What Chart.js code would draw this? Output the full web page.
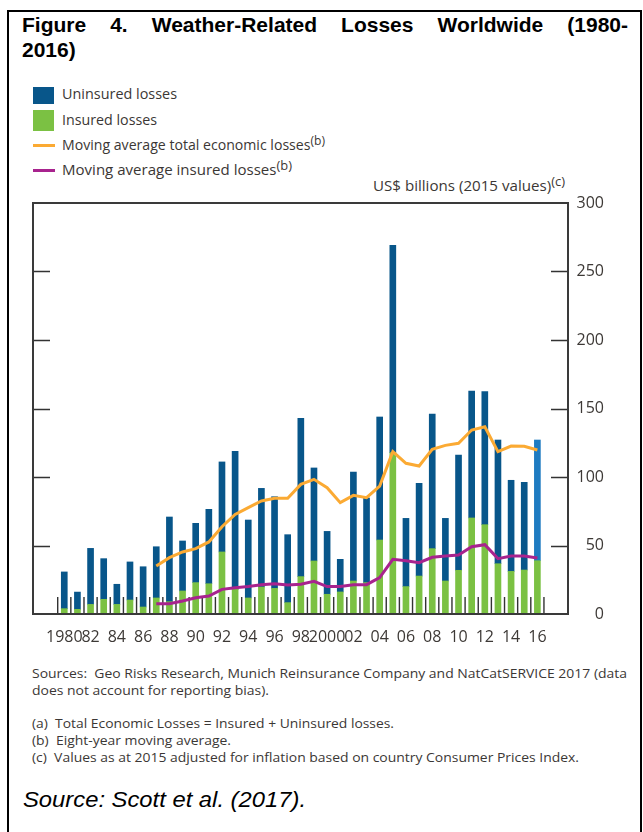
<!DOCTYPE html>
<html><head><meta charset="utf-8">
<script src="https://cdn.jsdelivr.net/npm/chart.js@4.4.0/dist/chart.umd.min.js"></script>
<style>
html,body{margin:0;padding:0;background:#fff;}
body{width:643px;height:832px;position:relative;overflow:hidden;font-family:"Open Sans",sans-serif;color:#3b3735;}
.frame{position:absolute;left:7px;top:10px;width:631px;height:840px;border:2px solid #000;border-bottom:none;}
.title{position:absolute;left:22px;width:606px;font:bold 21px "Liberation Sans",Arial,sans-serif;color:#000;line-height:21px;text-align:justify;text-align-last:justify;}
.t{position:absolute;white-space:nowrap;line-height:1;transform-origin:0 0;}
.lg{font-size:14px;}
.fn{font-size:13px;}
sup{font-size:12px;vertical-align:5px;line-height:0;}
.box{position:absolute;left:33px;width:21px;}
.ln{position:absolute;left:33px;width:22px;height:3px;}
#c{position:absolute;left:0;top:190px;}
</style></head>
<body>
<div class="frame"></div>
<div class="title" style="top:14px">Figure 4. Weather-Related Losses Worldwide (1980-</div>
<div class="title" style="top:39px;text-align-last:left">2016)</div>

<div class="box" style="top:87px;height:17px;background:#08568a"></div>
<div class="box" style="top:110px;height:21px;background:#7bc143"></div>
<div class="ln" style="top:144px;background:#fbaa33"></div>
<div class="ln" style="top:169px;background:#a8238e"></div>
<div class="t lg fit" data-w="115" style="left:62px;top:86.6px">Uninsured losses</div>
<div class="t lg fit" data-w="95" style="left:62px;top:113px">Insured losses</div>
<div class="t lg fit" data-w="263" style="left:62px;top:138.3px">Moving average total economic losses<sup>(b)</sup></div>
<div class="t lg fit" data-w="230" style="left:62px;top:162.6px">Moving average insured losses<sup>(b)</sup></div>
<div class="t lg fit" data-w="192" style="left:373px;top:179.3px">US$ billions (2015 values)<sup>(c)</sup></div>

<canvas id="c" width="643" height="460"></canvas>

<div class="t fn fit" data-w="595" style="left:32px;top:667px">Sources:&nbsp; Geo Risks Research, Munich Reinsurance Company and NatCatSERVICE 2017 (data</div>
<div class="t fn fit" data-w="237" style="left:32px;top:684px">does not account for reporting bias).</div>
<div class="t fn fit" data-w="362" style="left:32px;top:717px">(a)&nbsp; Total Economic Losses = Insured + Uninsured losses.</div>
<div class="t fn fit" data-w="199" style="left:32px;top:734px">(b)&nbsp; Eight-year moving average.</div>
<div class="t fn fit" data-w="547" style="left:32px;top:751px">(c)&nbsp; Values as at 2015 adjusted for inflation based on country Consumer Prices Index.</div>
<div class="t fit" data-w="283" style="left:23px;top:787px;font:italic 22px 'Liberation Sans',Arial,sans-serif;color:#000">Source: Scott et al. (2017).</div>

<script>
const years = [1980,1981,1982,1983,1984,1985,1986,1987,1988,1989,1990,1991,1992,1993,1994,1995,1996,1997,1998,1999,2000,2001,2002,2003,2004,2005,2006,2007,2008,2009,2010,2011,2012,2013,2014,2015,2016];
const insured = [3.9,3.4,7.0,10.7,7.0,10.2,5.1,11.7,9.0,16.8,22.9,22.1,45.3,18.0,11.7,19.7,18.7,8.3,27.3,38.7,14.4,16.1,24.1,22.9,54.0,117.8,20.0,27.7,47.7,24.1,31.9,70.1,65.2,36.7,31.1,32.1,38.9];
const uninsured = [26.8,12.6,40.9,29.7,14.7,27.8,29.4,37.4,61.8,36.5,43.3,54.3,65.7,100.7,56.9,72.0,66.9,49.6,115.5,67.9,45.9,23.8,79.5,61.8,89.8,151.3,49.8,67.7,98.3,45.7,84.1,92.7,97.1,90.3,66.5,64.0,88.1];
const maYears = [1987,1988,1989,1990,1991,1992,1993,1994,1995,1996,1997,1998,1999,2000,2001,2002,2003,2004,2005,2006,2007,2008,2009,2010,2011,2012,2013,2014,2015,2016];
const maTotal = [35.0,41.1,45.3,47.7,52.6,63.7,72.7,77.6,82.5,84.4,84.4,94.6,98.3,92.2,81.3,86.6,84.9,93.4,118.5,110.0,108.0,120.2,123.1,124.6,134.3,136.7,118.5,122.6,122.4,119.7];
const maInsured = [7.5,7.5,9.5,11.9,13.1,18.0,19.2,20.0,21.4,22.1,21.2,21.7,23.8,20.0,20.0,21.4,21.4,26.5,39.9,38.9,37.5,41.4,42.3,43.1,49.1,50.6,40.4,42.3,42.3,40.9];
const xTickYears = [1980,1982,1984,1986,1988,1990,1992,1994,1996,1998,2000,2002,2004,2006,2008,2010,2012,2014,2016];
const xTickLabels = ['1980','82','84','86','88','90','92','94','96','98','2000','02','04','06','08','10','12','14','16'];
const yTicks = [0,50,100,150,200,250,300];

document.querySelectorAll('.fit').forEach(el => {
  const w = el.getBoundingClientRect().width;
  const target = +el.dataset.w;
  if (w > 0) el.style.transform = 'scaleX(' + (target / w) + ')';
});

const colDark = '#08568a', colLight = '#1e7bc1';
const axisDecor = {
  id: 'axisDecor',
  beforeDatasetsDraw(chart) {
    const {ctx, chartArea: a, scales: {x, y}} = chart;
    ctx.save();
    ctx.strokeStyle = '#333';
    ctx.lineWidth = 1.4;
    ctx.beginPath();
    yTicks.slice(1, -1).forEach(v => {
      const py = Math.round(y.getPixelForValue(v)) + 0.5;
      ctx.moveTo(a.left, py); ctx.lineTo(a.left + 17, py);
      ctx.moveTo(a.right - 17, py); ctx.lineTo(a.right, py);
    });
    years.concat([years[years.length - 1] + 1]).forEach(yr => {
      const px = x.getPixelForValue(yr - 0.5);
      ctx.moveTo(px, a.bottom); ctx.lineTo(px, a.bottom - 17);
    });
    ctx.stroke();
    ctx.restore();
  },
  afterDatasetsDraw(chart) {
    const {ctx, chartArea: a} = chart;
    ctx.save();
    ctx.strokeStyle = '#3a3a3a';
    ctx.lineWidth = 2;
    ctx.strokeRect(a.left, a.top, a.right - a.left, a.bottom - a.top);
    ctx.restore();
  }
};

const font = {family: 'Open Sans', size: 16};
new Chart(document.getElementById('c'), {
  type: 'bar',
  data: {
    datasets: [
      {label: 'Insured losses', data: years.map((yr, i) => ({x: yr, y: insured[i]})), backgroundColor: '#7bc143', barThickness: 6, order: 1},
      {label: 'Uninsured losses', data: years.map((yr, i) => ({x: yr, y: uninsured[i]})), backgroundColor: years.map(yr => yr === 2016 ? colLight : colDark), barThickness: 6, order: 1},
      {type: 'line', label: 'Moving average total economic losses', data: maYears.map((yr, i) => ({x: yr, y: maTotal[i]})), borderColor: '#fbaa33', borderWidth: 3, pointRadius: 0, tension: 0, stack: 'ma1', order: 0},
      {type: 'line', label: 'Moving average insured losses', data: maYears.map((yr, i) => ({x: yr, y: maInsured[i]})), borderColor: '#a8238e', borderWidth: 3, pointRadius: 0, tension: 0, stack: 'ma2', order: 0}
    ]
  },
  options: {
    responsive: false, animation: false, devicePixelRatio: 1,
    layout: {padding: {top: 13, left: 33, right: 39, bottom: 0}},
    plugins: {legend: {display: false}, tooltip: {enabled: false}},
    scales: {
      x: {
        type: 'linear', min: 1977.62, max: 2018.33, stacked: true, offset: false,
        grid: {display: false}, border: {display: false},
        afterBuildTicks: s => { s.ticks = xTickYears.map(v => ({value: v})); },
        afterFit: s => { s.height = 36; },
        ticks: {autoSkip: false, maxRotation: 0, minRotation: 0, padding: 6, font, color: '#3d3936',
          callback: v => { const i = xTickYears.indexOf(v); return i >= 0 ? xTickLabels[i] : ''; }}
      },
      y: {
        position: 'right', min: 0, max: 300, stacked: true,
        grid: {display: false}, border: {display: false},
        afterBuildTicks: s => { s.ticks = yTicks.map(v => ({value: v})); },
        afterFit: s => { s.width = 36; },
        ticks: {crossAlign: 'far', padding: 0, font, color: '#3d3936'}
      }
    }
  },
  plugins: [axisDecor]
});
</script>
</body></html>
